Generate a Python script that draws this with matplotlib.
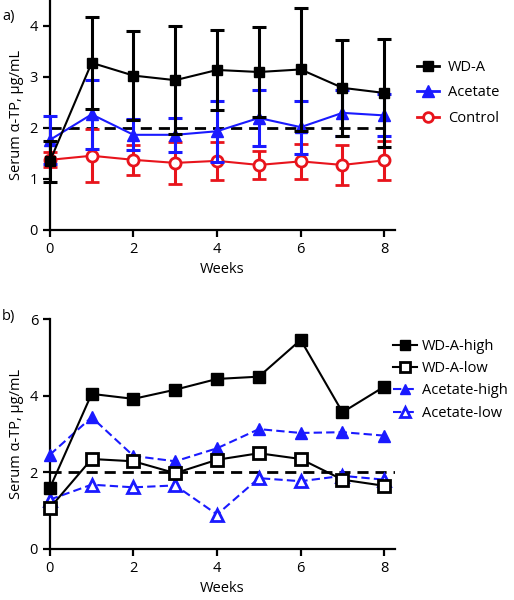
import matplotlib
matplotlib.use("Agg")
import matplotlib.pyplot as plt
from matplotlib.lines import Line2D
import numpy as np

plt.rcParams["font.family"] = ["Open Sans", "DejaVu Sans"]

weeks = np.arange(9)

# panel a: means and SD
wda_mean = [1.34, 3.27, 3.02, 2.93, 3.13, 3.09, 3.14, 2.78, 2.68]
wda_sd = [0.40, 0.90, 0.87, 1.06, 0.78, 0.88, 1.21, 0.94, 1.05]
acet_mean = [1.76, 2.26, 1.86, 1.86, 1.93, 2.19, 2.01, 2.29, 2.24]
acet_sd = [0.47, 0.67, 0.30, 0.33, 0.60, 0.54, 0.52, 0.45, 0.41]
ctrl_mean = [1.37, 1.45, 1.37, 1.31, 1.35, 1.27, 1.34, 1.27, 1.36]
ctrl_sd = [0.15, 0.52, 0.30, 0.41, 0.37, 0.27, 0.34, 0.39, 0.38]

# panel b: subgroup means
wda_high = [1.59, 4.05, 3.92, 4.16, 4.44, 4.50, 5.46, 3.57, 4.24]
wda_low = [1.07, 2.35, 2.29, 1.98, 2.33, 2.50, 2.35, 1.81, 1.65]
acet_high = [2.46, 3.44, 2.43, 2.29, 2.63, 3.13, 3.03, 3.05, 2.96]
acet_low = [1.29, 1.68, 1.61, 1.66, 0.90, 1.85, 1.77, 1.91, 1.81]

threshold = 2.0
BLUE = "#1a1aff"
RED = "#e8141c"

fig = plt.figure(figsize=(5.14, 6.0), dpi=100)
ax1 = fig.add_axes([0.097, 0.617, 0.671, 0.383])
ax2 = fig.add_axes([0.097, 0.085, 0.671, 0.383])


def style_axis(ax, ymax, yticks):
    ax.set_xlim(0, 8.25)
    ax.set_ylim(0, ymax)
    ax.set_xticks([0, 2, 4, 6, 8])
    ax.set_yticks(yticks)
    for s in ["top", "right"]:
        ax.spines[s].set_visible(False)
    for s in ["left", "bottom"]:
        ax.spines[s].set_linewidth(1.6)
    ax.tick_params(direction="out", width=1.6, length=5, labelsize=10.5)
    ax.set_xlabel("Weeks", fontsize=10.5)
    ax.set_ylabel("Serum α-TP, µg/mL", fontsize=10.5, labelpad=4)


err_kw = dict(capsize=5, elinewidth=2.2, capthick=2.2, clip_on=False, lw=1.5)
ax1.errorbar(weeks, ctrl_mean, yerr=ctrl_sd, color=RED, marker="o", ms=8,
             mfc="white", mew=2, zorder=3, **err_kw)
ax1.errorbar(weeks, acet_mean, yerr=acet_sd, color=BLUE, marker="^", ms=9,
             zorder=4, **err_kw)
ax1.errorbar(weeks, wda_mean, yerr=wda_sd, color="black", marker="s", ms=7.5,
             zorder=5, **err_kw)
ax1.plot([0, 8], [threshold, threshold], color="black", ls=(0, (4, 2.5)), lw=2, zorder=2)
style_axis(ax1, 4.5, [0, 1, 2, 3, 4])
leg_a = [
    Line2D([], [], color="black", marker="s", ms=6.5, lw=2, label="WD-A"),
    Line2D([], [], color=BLUE, marker="^", ms=8, lw=2, label="Acetate"),
    Line2D([], [], color=RED, marker="o", ms=7, mfc="white", mew=2, lw=2, label="Control"),
]
fig.legend(handles=leg_a, loc="center left", bbox_to_anchor=(0.812, 0.845),
           frameon=False, fontsize=10.5, handlelength=1.5, handletextpad=0.6,
           labelspacing=0.7, borderpad=0, borderaxespad=0)

ax2.plot(weeks, wda_high, color="black", marker="s", ms=9, lw=1.5, label="WD-A-high", clip_on=False, zorder=5)
ax2.plot(weeks, wda_low, color="black", marker="s", ms=9, mfc="white", mew=2, lw=1.5,
         label="WD-A-low", clip_on=False, zorder=5)
ax2.plot(weeks, acet_high, color=BLUE, marker="^", ms=9, lw=1.5, ls=(0, (4, 2)),
         label="Acetate-high", clip_on=False, zorder=4)
ax2.plot(weeks, acet_low, color=BLUE, marker="^", ms=9, mfc="white", mew=2, lw=1.5, ls=(0, (4, 2)),
         label="Acetate-low", clip_on=False, zorder=4)
ax2.plot([0, 8.25], [threshold, threshold], color="black", ls=(0, (4, 2.5)), lw=2, zorder=2)
style_axis(ax2, 6, [0, 2, 4, 6])
fig.legend(*ax2.get_legend_handles_labels(), loc="center left", bbox_to_anchor=(0.765, 0.367),
           frameon=False, fontsize=10.5, handlelength=1.6, handletextpad=0.35,
           labelspacing=0.5, borderpad=0, borderaxespad=0, markerscale=0.75)

fig.text(0.004, 0.985, "a)", fontsize=10.5, va="top")
fig.text(0.004, 0.485, "b)", fontsize=10.5, va="top")

fig.savefig("out.png", dpi=100)
